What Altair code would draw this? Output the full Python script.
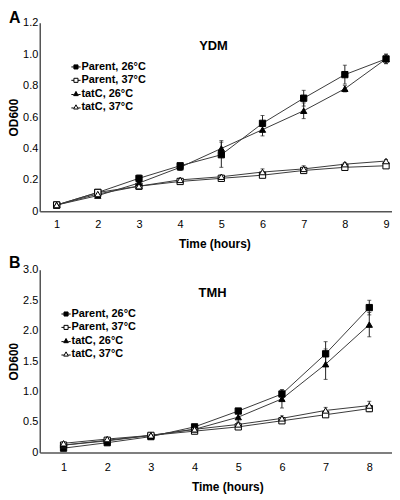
import altair as alt
import pandas as pd

series = ["Parent, 26°C", "Parent, 37°C", "tatC, 26°C", "tatC, 37°C"]

time_A = [1, 2, 3, 4, 5, 6, 7, 8, 9]
A_p26 = [0.04, 0.12, 0.21, 0.29, 0.36, 0.56, 0.72, 0.87, 0.97]
A_p26_err = [0.01, 0.01, 0.02, 0.01, 0.08, 0.05, 0.05, 0.06, 0.03]
A_p37 = [0.04, 0.12, 0.16, 0.19, 0.21, 0.23, 0.26, 0.28, 0.29]
A_p37_err = [0.01, 0.01, 0.01, 0.01, 0.01, 0.01, 0.01, 0.01, 0.01]
A_t26 = [0.04, 0.10, 0.18, 0.28, 0.40, 0.52, 0.64, 0.78, 0.97]
A_t26_err = [0.01, 0.01, 0.02, 0.02, 0.05, 0.04, 0.05, 0.02, 0.03]
A_t37 = [0.04, 0.11, 0.16, 0.20, 0.22, 0.25, 0.27, 0.30, 0.32]
A_t37_err = [0.01, 0.01, 0.02, 0.01, 0.01, 0.02, 0.02, 0.01, 0.01]

time_B = [1, 2, 3, 4, 5, 6, 7, 8]
B_p26 = [0.07, 0.16, 0.26, 0.42, 0.68, 0.96, 1.62, 2.38]
B_p26_err = [0.01, 0.02, 0.03, 0.03, 0.04, 0.07, 0.20, 0.12]
B_p37 = [0.12, 0.20, 0.28, 0.35, 0.42, 0.52, 0.62, 0.72]
B_p37_err = [0.02, 0.02, 0.02, 0.02, 0.02, 0.03, 0.03, 0.05]
B_t26 = [0.12, 0.19, 0.28, 0.38, 0.58, 0.88, 1.45, 2.10]
B_t26_err = [0.02, 0.02, 0.02, 0.03, 0.08, 0.15, 0.25, 0.20]
B_t37 = [0.15, 0.22, 0.28, 0.38, 0.46, 0.56, 0.69, 0.77]
B_t37_err = [0.02, 0.02, 0.02, 0.02, 0.03, 0.04, 0.05, 0.07]

FONT = "Liberation Sans"
LINE = "#3a3a3a"


def frame(times, vals, errs):
    rows = []
    for s, v, e in zip(series, vals, errs):
        for t, y, d in zip(times, v, e):
            rows.append({"t": t, "od": y, "lo": y - d, "hi": y + d, "s": s})
    return pd.DataFrame(rows)


dfA = frame(time_A, [A_p26, A_p37, A_t26, A_t37],
            [A_p26_err, A_p37_err, A_t26_err, A_t37_err])
dfB = frame(time_B, [B_p26, B_p37, B_t26, B_t37],
            [B_p26_err, B_p37_err, B_t26_err, B_t37_err])

# legend glyphs: short line with a marker in the middle
sq = "M-1.7,0H-0.75M0.75,0H1.7M-0.75,-0.75H0.75V0.75H-0.75Z"
tr = "M-1.7,0.3H-0.8M0.8,0.3H1.7M0,-0.85L0.85,0.7H-0.85Z"


def panel(df, ymax, ystep, xdom, width, height, name, letter, title_x, title_y,
          leg_x, leg_y, title_dx, letter_y, xlab_pad):
    xaxis = alt.Axis(title="Time (hours)", values=sorted(df["t"].unique().tolist()),
                     format="d", grid=False, ticks=False, labelPadding=xlab_pad,
                     titlePadding=9, domainColor="#555", domainWidth=1.5,
                     titleX=title_dx, labelOverlap=False)
    yvals = [round(i * ystep, 2) for i in range(int(round(ymax / ystep)) + 1)]
    yaxis = alt.Axis(title="OD600", values=yvals,
                     labelExpr="datum.value == 0 ? '0' : format(datum.value, '.1f')",
                     grid=False, ticks=False, labelPadding=2, titleX=-19,
                     titleBaseline="bottom", titleAlign="center",
                     domainColor="#555", domainWidth=1.5, labelOverlap=False)
    xs = alt.Scale(domain=xdom, nice=False, zero=False)
    ys = alt.Scale(domain=[0, ymax], nice=False)

    def X():
        return alt.X("t:Q", scale=xs, axis=xaxis)

    def Y(f):
        return alt.Y(f, scale=ys, axis=yaxis)

    base = alt.Chart(df)
    lines = base.mark_line(strokeWidth=1, color=LINE).encode(x=X(), y=Y("od:Q"), detail="s:N")
    rules = base.mark_rule(strokeWidth=1, color="#222").encode(x=X(), y=Y("lo:Q"), y2="hi:Q")
    cap_lo = base.mark_tick(orient="horizontal", size=4, thickness=1, color="#222").encode(x=X(), y=Y("lo:Q"))
    cap_hi = base.mark_tick(orient="horizontal", size=4, thickness=1, color="#222").encode(x=X(), y=Y("hi:Q"))
    pts = base.mark_point(opacity=1, strokeWidth=1, stroke="black", size=40).encode(
        x=X(), y=Y("od:Q"),
        shape=alt.Shape("s:N", scale=alt.Scale(domain=series, range=["square", "square", "triangle-up", "triangle-up"]),
                        legend=None),
        fill=alt.Fill("s:N", scale=alt.Scale(domain=series, range=["black", "white", "black", "white"]),
                      legend=None),
    )
    leg = base.mark_point(strokeWidth=1, size=30).encode(
        x=X(), y=Y("od:Q"), opacity=alt.value(0),
        shape=alt.Shape("s:N", scale=alt.Scale(domain=series, range=[sq, sq, tr, tr]),
                        legend=alt.Legend(title=None, orient="none", legendX=leg_x, legendY=leg_y,
                                          labelFont=FONT, labelFontSize=11, labelFontWeight="bold",
                                          labelColor="black", symbolSize=30, symbolStrokeWidth=1,
                                          symbolOpacity=1, rowPadding=1.5, labelOffset=0)),
        fill=alt.Fill("s:N", scale=alt.Scale(domain=series, range=["black", "white", "black", "white"]),
                      legend=alt.Legend(title=None, orient="none", legendX=leg_x, legendY=leg_y)),
        stroke=alt.Stroke("s:N", scale=alt.Scale(domain=series, range=["black"] * 4),
                          legend=alt.Legend(title=None, orient="none", legendX=leg_x, legendY=leg_y)),
    )
    name_txt = alt.Chart(pd.DataFrame({"n": [name], "x": [title_x], "y": [title_y]})).mark_text(
        font=FONT, fontSize=13, fontWeight="bold", align="center", color="black").encode(
        x=alt.X("x:Q", scale=xs, axis=xaxis), y=alt.Y("y:Q", scale=ys, axis=yaxis), text="n:N")
    letter_txt = alt.Chart(pd.DataFrame({"n": [letter]})).mark_text(
        font=FONT, fontSize=16, fontWeight="bold", align="left", baseline="top", color="black").encode(
        x=alt.value(-31), y=alt.value(letter_y), text="n:N")
    return alt.layer(lines, rules, cap_lo, cap_hi, pts, leg, name_txt, letter_txt).resolve_scale(
        shape="independent", fill="independent", stroke="independent").properties(width=width, height=height)


pA = panel(dfA, 1.2, 0.2, [0.59, 9.145], 355, 190, "YDM", "A", 4.81, 1.055, 31, 39, 176, -13, 7)
pB = panel(dfB, 3.0, 0.5, [0.455, 8.52], 355, 184, "TMH", "B", 4.41, 2.625, 21, 39, 189, -15, 9)

chart = alt.vconcat(pA, pB, spacing=59, bounds="flush").resolve_scale(
    x="independent", y="independent"
).configure_view(stroke=None).configure_axis(
    labelFont=FONT, labelFontSize=11, labelColor="black",
    titleFont=FONT, titleFontSize=12, titleFontWeight="bold", titleColor="black"
).properties(padding={"left": 0, "top": 0, "right": 0, "bottom": 0})

chart.save("out.html", embed_options={"renderer": "svg", "actions": False})
